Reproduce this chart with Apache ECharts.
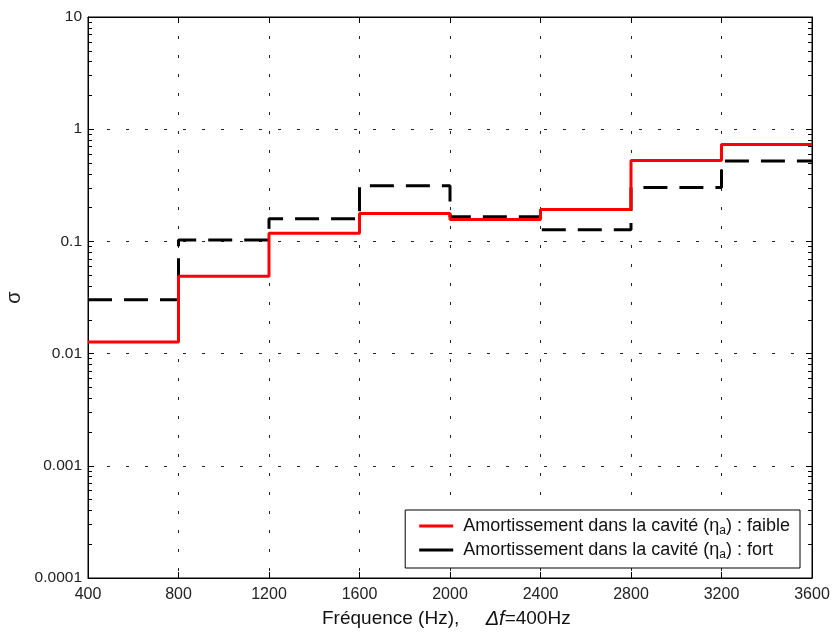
<!DOCTYPE html>
<html>
<head>
<meta charset="utf-8">
<script src="https://cdn.jsdelivr.net/npm/echarts@6/dist/echarts.min.js"></script>
<style>html,body{margin:0;padding:0;background:#fff}#c{width:835px;height:637px}</style>
</head>
<body>
<div id="c"></div>
<script>
// Band start frequencies (Hz), last entry closes the final band
const freqs = [400, 800, 1200, 1600, 2000, 2400, 2800, 3200, 3600];
// σ per band (last value repeated to close the step at 3600)
const sigmaFaible = [0.0127, 0.049, 0.118, 0.177, 0.157, 0.192, 0.525, 0.73, 0.73];
const sigmaFort   = [0.0302, 0.103, 0.159, 0.314, 0.166, 0.127, 0.303, 0.522, 0.522];
const xTicks = [400, 800, 1200, 1600, 2000, 2400, 2800, 3200, 3600];
const yTicks = [0.0001, 0.001, 0.01, 0.1, 1, 10];
const minorMult = [2, 3, 4, 5, 6, 7, 8, 9];
const seriesNames = [
  'Amortissement dans la cavité (η{sub|a}) : faible',
  'Amortissement dans la cavité (η{sub|a}) : fort'
];

const yMinor = [];
yTicks.slice(0, -1).forEach(d => minorMult.forEach(m => yMinor.push(+(d * m).toPrecision(3))));

const chart = echarts.init(document.getElementById('c'), null, {renderer: 'canvas'});
const FONT = '"Liberation Sans", Arial, sans-serif';
const gridLine = {show: true, lineStyle: {color: '#222', width: 1, type: [3, 16]}};

function fmtY(v) {
  const r = yTicks.find(t => Math.abs(Math.log10(t) - Math.log10(v)) < 1e-6);
  return r !== undefined ? String(r) : '';
}

const yBase = {type: 'log', logBase: 10, min: yTicks[0], max: yTicks[yTicks.length - 1], offset: 0};

chart.setOption({
  animation: false,
  backgroundColor: '#fff',
  textStyle: {fontFamily: FONT},
  grid: {left: 88, right: 23, top: 17, bottom: 59, show: true, borderColor: '#000', borderWidth: 1,
         containLabel: false, outerBoundsMode: 'none'},
  xAxis: [{
    type: 'value', min: xTicks[0], max: xTicks[xTicks.length - 1], interval: 400,
    axisLine: {show: true, onZero: false, lineStyle: {color: '#000', width: 1}},
    axisTick: {show: true, inside: true, length: 6, lineStyle: {color: '#000'}},
    axisLabel: {color: '#222', fontSize: 16, fontFamily: FONT, margin: 9, formatter: v => String(v)},
    splitLine: gridLine
  }, {
    type: 'value', position: 'top', min: xTicks[0], max: xTicks[xTicks.length - 1], interval: 400,
    axisLine: {show: true, onZero: false, lineStyle: {color: '#000'}},
    axisTick: {show: true, inside: true, length: 6, lineStyle: {color: '#000'}},
    axisLabel: {show: false}, splitLine: {show: false}
  }],
  yAxis: [Object.assign({}, yBase, {
    axisLine: {show: true, onZero: false, lineStyle: {color: '#000', width: 1}},
    axisTick: {show: true, inside: true, length: 6, lineStyle: {color: '#000'}},
    axisLabel: {color: '#222', fontSize: 15.5, fontFamily: FONT, margin: 6, formatter: fmtY},
    splitLine: gridLine,
    name: 'σ', nameLocation: 'middle', nameGap: 64, nameRotate: 90, nameMoveOverlap: false,
    nameTextStyle: {color: '#222', fontSize: 20, fontFamily: FONT}
  }), Object.assign({}, yBase, {
    position: 'right',
    axisLine: {show: true, onZero: false, lineStyle: {color: '#000'}},
    axisTick: {show: true, inside: true, length: 6, lineStyle: {color: '#000'}},
    axisLabel: {show: false}, splitLine: {show: false}
  }), Object.assign({}, yBase, {
    position: 'left',
    axisLine: {show: false},
    axisTick: {show: true, inside: true, length: 4, customValues: yMinor, lineStyle: {color: '#000'}},
    axisLabel: {show: false}, splitLine: {show: false}
  }), Object.assign({}, yBase, {
    position: 'right',
    axisLine: {show: false},
    axisTick: {show: true, inside: true, length: 4, customValues: yMinor, lineStyle: {color: '#000'}},
    axisLabel: {show: false}, splitLine: {show: false}
  })],
  legend: {
    orient: 'vertical', right: 35, bottom: 69,
    backgroundColor: '#fff', borderColor: '#000', borderWidth: 1, borderRadius: 0,
    padding: [7, 10, 7, 14], itemGap: 4, itemWidth: 34, itemHeight: 3,
    icon: 'rect',
    data: seriesNames,
    textStyle: {
      fontSize: 18, color: '#111', fontFamily: FONT, padding: [0, 0, 0, 5],
      rich: {sub: {fontSize: 12, verticalAlign: 'bottom', padding: [10, 0, 0, 0], color: '#111', fontFamily: FONT}}
    }
  },
  graphic: [{
    type: 'text', left: 322, top: 609,
    style: {
      text: 'Fréquence (Hz),     {it|Δf}=400Hz',
      fill: '#111', font: '19px ' + FONT,
      rich: {it: {fontStyle: 'italic', fontSize: 20, fontFamily: FONT, fill: '#111'}}
    }
  }],
  series: [{
    name: seriesNames[0], type: 'line', step: 'end', showSymbol: false, symbol: 'none',
    data: freqs.map((f, i) => [f, sigmaFaible[i]]),
    lineStyle: {color: '#ff0000', width: 3}, itemStyle: {color: '#ff0000'}, z: 3
  }, {
    name: seriesNames[1], type: 'line', step: 'end', showSymbol: false, symbol: 'none',
    data: freqs.map((f, i) => [f, sigmaFort[i]]),
    lineStyle: {color: '#000', width: 3, type: [24, 12]}, itemStyle: {color: '#000'}, z: 2
  }]
});
</script>
</body>
</html>
